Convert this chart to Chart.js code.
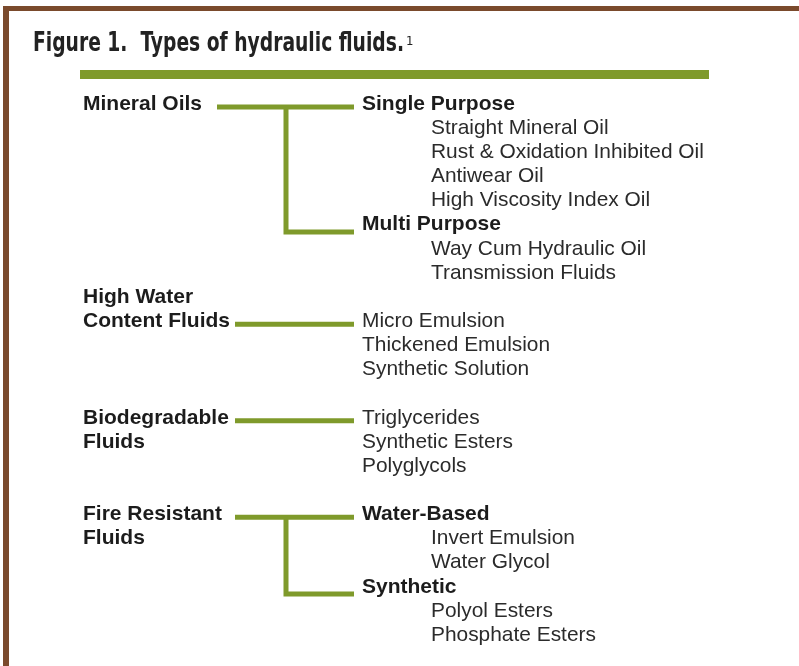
<!DOCTYPE html>
<html>
<head>
<meta charset="utf-8">
<script src="https://cdn.jsdelivr.net/npm/chart.js@4.4.1/dist/chart.umd.min.js"></script>
<style>
  html, body { margin: 0; padding: 0; background: #fff; }
  canvas { display: block; }
</style>
</head>
<body>
<canvas id="fluids" width="799" height="666"></canvas>
<script>
// --- data ---
const titleText = 'Figure 1.  Types of hydraulic fluids.';
const titleNote = '1';

const categories = [['Mineral Oils'], ['High Water', 'Content Fluids'], ['Biodegradable', 'Fluids'], ['Fire Resistant', 'Fluids']];
const categoryRows = [0, 8, 13, 17];   // row of first label line
const linkRows = [0, 9, 13, 17];       // row the connector leaves from
const subTypes = [['Single Purpose', 'Multi Purpose'], [], [], ['Water-Based', 'Synthetic']];
const fluidTypes = [
  [['Straight Mineral Oil', 'Rust & Oxidation Inhibited Oil', 'Antiwear Oil', 'High Viscosity Index Oil'],
   ['Way Cum Hydraulic Oil', 'Transmission Fluids']],
  [['Micro Emulsion', 'Thickened Emulsion', 'Synthetic Solution']],
  [['Triglycerides', 'Synthetic Esters', 'Polyglycols']],
  [['Invert Emulsion', 'Water Glycol'], ['Polyol Esters', 'Phosphate Esters']]
];

// --- layout ---
const W = 799, H = 666;
const ROW_PX = 24.14, ROW0_PX = 104;
const colX = [83, 362, 431];
const linkStartX = [217, 235, 235, 235];
const linkEndX = 354, branchX = 286;
const DROP = 0.12, DROP2 = 0.3;
const barRow = -1.22, barX = [80, 709];
const green = '#7f9a2b';
const brown = '#7a4a2c';

// build labels and connectors from the tree
const labels = [];
const links = [];
categories.forEach((cat, i) => {
  cat.forEach((line, k) => labels.push({ text: line, col: 0, row: categoryRows[i] + k, bold: true }));
  let row = linkRows[i];
  const branchRows = [];
  if (subTypes[i].length) {
    subTypes[i].forEach((s, j) => {
      labels.push({ text: s, col: 1, row: row, bold: true });
      branchRows.push(row);
      row++;
      fluidTypes[i][j].forEach(f => { labels.push({ text: f, col: 2, row: row, bold: false }); row++; });
    });
  } else {
    fluidTypes[i][0].forEach(f => { labels.push({ text: f, col: 1, row: row, bold: false }); row++; });
  }
  const y0 = linkRows[i] + DROP;
  links.push({ pts: [{ x: linkStartX[i], y: y0 }, { x: linkEndX, y: y0 }], w: 5 });
  if (branchRows.length > 1) {
    const y1 = branchRows[1] + DROP2;
    links.push({ pts: [{ x: branchX, y: y0 }, { x: branchX, y: y1 }, { x: linkEndX, y: y1 }], w: 5 });
  }
});
links.unshift({ pts: [{ x: barX[0], y: barRow }, { x: barX[1], y: barRow }], w: 9 });

const framePlugin = {
  id: 'frame',
  beforeDraw(chart) {
    const ctx = chart.ctx;
    ctx.save();
    ctx.fillStyle = '#fff';
    ctx.fillRect(0, 0, W, H);
    ctx.fillStyle = brown;
    ctx.fillRect(3, 6, W - 3, 5);
    ctx.fillRect(3, 6, 6, H - 6);
    ctx.restore();
  }
};

const textPlugin = {
  id: 'treeText',
  afterDatasetsDraw(chart) {
    const { ctx, scales: { x, y } } = chart;
    ctx.save();
    ctx.textBaseline = 'middle';
    ctx.textAlign = 'left';
    labels.forEach(l => {
      ctx.font = l.bold ? 'bold 21px "Liberation Sans", Arial, sans-serif' : '20.9px "Liberation Sans", Arial, sans-serif';
      ctx.fillStyle = l.bold ? '#1c1c1c' : '#2b2b2b';
      ctx.fillText(l.text, x.getPixelForValue(colX[l.col]), y.getPixelForValue(l.row));
    });

    // title, squeezed to the width of the original
    ctx.textBaseline = 'alphabetic';
    ctx.font = 'bold 27px "Liberation Sans Narrow", "DejaVu Sans Condensed", sans-serif';
    ctx.fillStyle = '#222';
    const tw = ctx.measureText(titleText).width;
    const sx = 371 / tw;
    ctx.save();
    ctx.translate(33, 51);
    ctx.scale(sx, 1);
    ctx.fillText(titleText, 0, 0);
    ctx.restore();
    ctx.font = '13px "Liberation Sans Narrow", "DejaVu Sans Condensed", sans-serif';
    ctx.fillText(titleNote, 406, 45);
    ctx.restore();
  }
};

new Chart(document.getElementById('fluids'), {
  type: 'line',
  data: {
    datasets: links.map(l => ({
      data: l.pts,
      borderColor: green,
      borderWidth: l.w,
      pointRadius: 0,
      tension: 0,
      fill: false,
      borderCapStyle: 'butt',
      borderJoinStyle: 'miter',
      clip: false
    }))
  },
  options: {
    responsive: false,
    animation: false,
    events: [],
    layout: { padding: 0 },
    plugins: { legend: { display: false }, tooltip: { enabled: false }, title: { display: false } },
    scales: {
      x: { type: 'linear', min: 0, max: W, display: false },
      y: { type: 'linear', min: -ROW0_PX / ROW_PX, max: (H - ROW0_PX) / ROW_PX, reverse: true, display: false }
    }
  },
  plugins: [framePlugin, textPlugin]
});
</script>
</body>
</html>
